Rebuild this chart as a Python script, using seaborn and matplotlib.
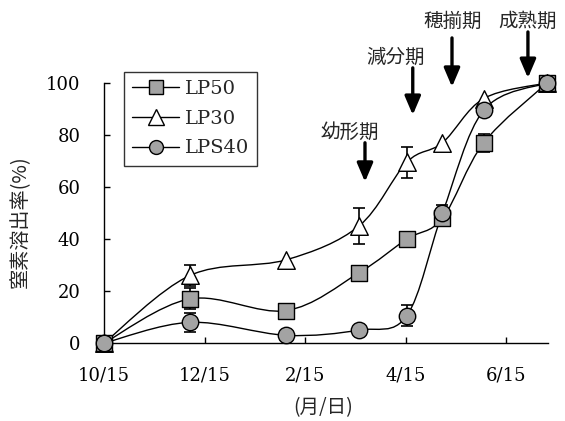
import matplotlib
matplotlib.use("Agg")
import matplotlib.pyplot as plt
from matplotlib.path import Path
from matplotlib.patches import PathPatch
from matplotlib.lines import Line2D
import numpy as np
import pandas as pd
import seaborn as sns

# Sampling dates, in months counted from 10/15
months = [0.0, 1.71, 3.62, 5.07, 6.02, 6.73, 7.55, 8.81]

# Nitrogen release (%) for each coated fertilizer
lp50 = [0, 17, 12.5, 27, 40, 48, 77, 100]
lp30 = [0, 26, 32, 45, 69.5, 77, 94, 100]
lps40 = [0, 8, 3, 5, 10.5, 50, 89.5, 100]

# Error bar half-widths (%)
lp50_err = [0, 4, 0, 0, 0, 2, 3.5, 0]
lp30_err = [0, 4, 0, 7, 6, 0, 0, 0]
lps40_err = [0, 3.7, 0, 0, 4, 3, 0, 0]

x_ticks = [0, 2, 4, 6, 8]
x_tick_labels = ["10/15", "12/15", "2/15", "4/15", "6/15"]
y_ticks = [0, 20, 40, 60, 80, 100]

stage_names = ["幼形期", "減分期", "穂揃期", "成熟期"]

sns.set_theme(style="ticks")
plt.rcParams["font.family"] = ["DejaVu Serif", "Noto Sans CJK JP"]
plt.rcParams["axes.linewidth"] = 1.0

CJK = ["Noto Sans CJK JP", "DejaVu Sans"]
GRAY = "#a3a3a3"

fig = plt.figure(figsize=(5.65, 4.21), dpi=100)
ax = fig.add_axes([0.184, 0.185, 0.786, 0.618])


def smooth_path(xs, ys):
    """Catmull-Rom style cubic Bezier path through the given points."""
    pts = np.column_stack([xs, ys]).astype(float)
    n = len(pts)
    verts = [pts[0]]
    codes = [Path.MOVETO]
    for i in range(n - 1):
        p0 = pts[i - 1] if i > 0 else pts[i]
        p1 = pts[i]
        p2 = pts[i + 1]
        p3 = pts[i + 2] if i + 2 < n else pts[i + 1]
        c1 = p1 + (p2 - p0) / 6.0
        c2 = p2 - (p3 - p1) / 6.0
        verts += [c1, c2, p2]
        codes += [Path.CURVE4] * 3
    return Path(verts, codes)


series = [
    ("LP30", lp30, lp30_err, "^", "white", 160),
    ("LP50", lp50, lp50_err, "s", GRAY, 135),
    ("LPS40", lps40, lps40_err, "o", GRAY, 140),
]

for z, (name, vals, errs, mk, fc, size) in enumerate(series):
    patch = PathPatch(smooth_path(months, vals), facecolor="none",
                      edgecolor="black", lw=1.0, zorder=2 + z, clip_on=False)
    ax.add_patch(patch)
    e = np.array(errs, dtype=float)
    keep = e > 0
    ax.errorbar(np.array(months)[keep], np.array(vals)[keep], yerr=e[keep],
                fmt="none", ecolor="black", elinewidth=1.2, capsize=4.5,
                capthick=1.2, zorder=2 + z, clip_on=False)
    df = pd.DataFrame({"month": months, "value": vals})
    sns.scatterplot(data=df, x="month", y="value", marker=mk, s=size,
                    color=fc, edgecolor="black", linewidth=1.0, ax=ax,
                    zorder=5 + z, clip_on=False, legend=False)

ax.set_xlim(0, 8.83)
ax.set_ylim(0, 100)
ax.set_xticks(x_ticks)
ax.set_xticklabels(x_tick_labels)
ax.set_yticks(y_ticks)
ax.tick_params(axis="both", direction="in", length=4, width=1.0,
               labelsize=13, colors="black")
ax.tick_params(axis="x", pad=17)
ax.tick_params(axis="y", pad=17)
ax.set_xlabel("")
ax.set_ylabel("")
for side in ("top", "right"):
    ax.spines[side].set_visible(False)
for side in ("left", "bottom"):
    ax.spines[side].set_color("black")

fig.text(20 / 565, 1 - 222 / 421, "窒素溶出率(%)", rotation=90,
         ha="center", va="center", fontsize=14.5, family=CJK)
fig.text(323 / 565, 1 - 408 / 421, "(月/日)", ha="center", va="center",
         fontsize=14, family=CJK)

# Growth stage markers
stage_text_xy = [(4.89, 81.0), (5.79, 110.0), (6.94, 123.5), (8.43, 123.5)]
stage_arrows = [(5.19, 77.0, 62.0), (6.14, 105.8, 87.7),
                (6.92, 117.3, 98.5), (8.43, 119.6, 101.9)]
for name, (tx, ty), (axx, y0, y1) in zip(stage_names, stage_text_xy, stage_arrows):
    ax.text(tx, ty, name, ha="center", va="center", fontsize=14,
            family=CJK, clip_on=False)
    ax.annotate("", xy=(axx, y1), xytext=(axx, y0),
                arrowprops=dict(arrowstyle="-|>,head_width=0.32,head_length=0.75",
                                lw=2.4, color="black", shrinkA=0, shrinkB=0,
                                mutation_scale=15),
                annotation_clip=False)

handles = [
    Line2D([], [], color="black", lw=1.0, marker="s", ms=10,
           mfc=GRAY, mec="black", label="LP50"),
    Line2D([], [], color="black", lw=1.0, marker="^", ms=11,
           mfc="white", mec="black", label="LP30"),
    Line2D([], [], color="black", lw=1.0, marker="o", ms=10,
           mfc=GRAY, mec="black", label="LPS40"),
]
leg = ax.legend(handles=handles, loc="upper left",
                bbox_to_anchor=(124 / 565, 1 - 72 / 421),
                bbox_transform=fig.transFigure, fontsize=14, frameon=True,
                fancybox=False, shadow=False, borderaxespad=0,
                handlelength=2.4, handletextpad=0.3, labelspacing=0.6,
                borderpad=0.42)
leg.get_frame().set_edgecolor("black")
leg.get_frame().set_linewidth(1.0)
leg.get_frame().set_facecolor("white")

fig.savefig("out.png", dpi=100)
